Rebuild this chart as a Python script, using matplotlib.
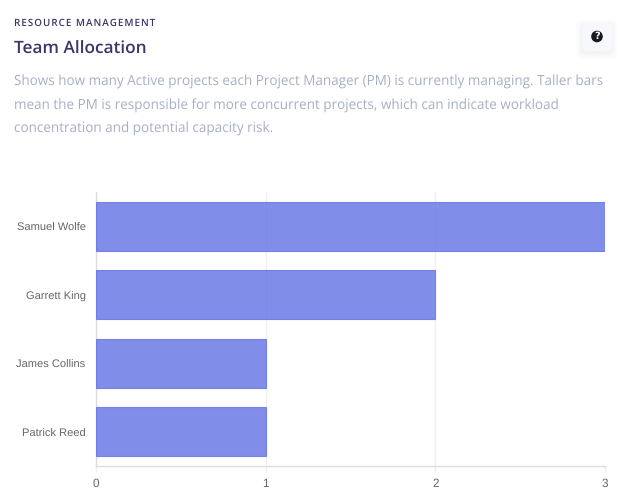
import matplotlib.pyplot as plt
from matplotlib.patches import FancyBboxPatch, Circle
from matplotlib.transforms import ScaledTranslation

managers = ["Samuel Wolfe", "Garrett King", "James Collins", "Patrick Reed"]
active_projects = [3, 2, 1, 1]
x_ticks = [0, 1, 2, 3]

W, H = 630, 504

plt.rcParams["text.hinting"] = "no_hinting"
plt.rcParams["text.hinting_factor"] = 8

fig = plt.figure(figsize=(W / 100, H / 100), dpi=100)
fig.patch.set_facecolor("white")

# overlay in pixel coordinates for the header text and the help button
bg = fig.add_axes([0, 0, 1, 1])
bg.set_xlim(0, W)
bg.set_ylim(H, 0)
bg.axis("off")

# hair spaces give the small heading its wide tracking
eyebrow = "\u200a".join("RESOURCE MANAGEMENT")
bg.text(14, 23, eyebrow, family=["Open Sans", "DejaVu Sans"], fontsize=7.1, weight="semibold",
        color="#3a3768", va="center", ha="left")
bg.text(14, 49, "Team Allocation", family="Open Sans", fontsize=12.4, weight="semibold",
        color="#3a3768", va="center", ha="left")

description = [
    "Shows how many Active projects each Project Manager (PM) is currently managing. Taller bars",
    "mean the PM is responsible for more concurrent projects, which can indicate workload",
    "concentration and potential capacity risk.",
]
for y, line in zip([82, 106, 129], description):
    bg.text(14, y, line, family="Open Sans", fontsize=9.72, color="#a6b0c3", va="center", ha="left")

# soft shadow under the help button
for grow, alpha in [(6, 0.008), (4, 0.012), (2.5, 0.015), (1, 0.02)]:
    bg.add_patch(FancyBboxPatch((582 - grow, 25 - grow), 30 + 2 * grow, 28 + 2 * grow,
                                boxstyle="round,pad=0,rounding_size=6", fc="#3a4a70", ec="none", alpha=alpha))
bg.add_patch(FancyBboxPatch((582, 23), 30, 28, boxstyle="round,pad=0,rounding_size=5",
                            fc="#f6f8fc", ec="none"))
bg.add_patch(Circle((597, 36.5), 5.8, fc="#16191f", ec="none"))
bg.text(597, 36.7, "?", family="DejaVu Sans", fontsize=7, weight="bold", color="white", ha="center", va="center")

ax = fig.add_axes([96 / W, 1 - 466 / H, 509 / W, 274 / H])
ax.patch.set_alpha(0)

y_pos = range(len(managers))
ax.barh(y_pos, active_projects, height=0.715, color="#5d6fe3", alpha=0.78,
        edgecolor="#5d6fe3", linewidth=0.8, zorder=3)

ax.set_xlim(0, 3)
ax.set_ylim(len(managers) - 0.5, -0.5)
ax.set_xticks(x_ticks)
ax.set_yticks(list(y_pos))
ax.set_yticklabels(managers)

ax.grid(axis="x", color="#f0f0f0", linewidth=1, zorder=0)
ax.set_axisbelow(True)
for name in ["top", "right"]:
    ax.spines[name].set_visible(False)
for name in ["left", "bottom"]:
    ax.spines[name].set_color("#dddddd")
    ax.spines[name].set_linewidth(1)

ax.tick_params(axis="y", length=0, pad=7.5, labelcolor="#666666", labelsize=8)
ax.tick_params(axis="x", length=4, width=1, color="#eeeeee", pad=5, labelcolor="#666666", labelsize=8.5)
for label in ax.get_xticklabels() + ax.get_yticklabels():
    label.set_family("Liberation Sans")

# nudge the manager names down a pixel so they sit centred on the bars
nudge = ScaledTranslation(0, -1 / fig.dpi, fig.dpi_scale_trans)
for label in ax.get_yticklabels():
    label.set_transform(label.get_transform() + nudge)

fig.savefig("out.png", dpi=100)
